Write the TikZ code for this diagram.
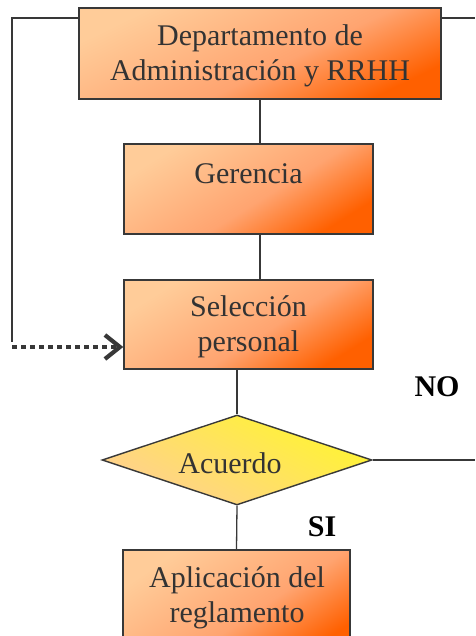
\documentclass[tikz,border=0pt]{standalone}
\usepackage{fontspec}
\setmainfont{Liberation Serif}
\usetikzlibrary{arrows.meta,shapes.geometric}
\definecolor{txt}{HTML}{333333}
\definecolor{ln}{HTML}{383838}
\definecolor{olight}{HTML}{FFCC99}
\definecolor{omid}{HTML}{FFA470}
\definecolor{odark}{HTML}{FF6000}
\definecolor{ylw}{HTML}{FFF530}
\definecolor{ylight}{HTML}{FFCF92}
\pgfdeclareverticalshading{orangesh}{100bp}{color(0bp)=(odark); color(25bp)=(odark); color(45bp)=(omid); color(75bp)=(olight); color(100bp)=(olight)}
\pgfdeclareverticalshading{yellowsh}{100bp}{color(0bp)=(ylight); color(25bp)=(ylight); color(75bp)=(ylw); color(100bp)=(ylw)}
\tikzset{
  box/.style={draw=ln, line width=1.4pt, rectangle, inner sep=0pt,
    shading=orangesh, shading angle=#1},
  box/.default=32,
  lbl/.style={text=txt, font=\fontsize{30}{35}\selectfont, align=center, inner sep=0pt},
  conn/.style={draw=ln, line width=1.3pt},
  dec/.style={draw=ln, line width=1.4pt, diamond, shape aspect=3, inner sep=0pt,
    minimum width=270pt, minimum height=90pt,
    shading=yellowsh, shading angle=-28},
  boldlbl/.style={text=black, font=\fontsize{30}{35}\selectfont\bfseries, inner sep=0pt}
}
\begin{document}
\begin{tikzpicture}[x=1pt,y=1pt]
\useasboundingbox (0,0) rectangle (475,636);
% boxes
\node[box=26, minimum width=362pt, minimum height=91pt] (dep) at (260,582.5) {};
\node[lbl] (deptxt) at (260,580) {Departamento de\\Administración y RRHH};
\node[box=32, minimum width=249pt, minimum height=90pt] (ger) at (248.5,447) {};
\node[lbl] (gertxt) at (248.5,462) {Gerencia};
\node[box=32, minimum width=249pt, minimum height=89pt] (sel) at (248.5,311.5) {};
\node[lbl] (seltxt) at (248.5,309) {Selección\\personal};
\node[dec] (dia) at (237,176) {};
\node[lbl] (diatxt) at (230,173) {Acuerdo};
\node[box=34, minimum width=227pt, minimum height=110pt] (app) at (236.5,31) {};
\node[lbl] (apptxt) at (237,38) {Aplicación del\\reglamento};
\node[boldlbl] (no) at (437,249) {NO};
\node[boldlbl] (si) at (322,109) {SI};
% coordinates
\coordinate (tr) at (475,618);
\coordinate (tl) at (12,618);
\coordinate (lb) at (12,294);
\coordinate (ls) at (12,289);
\coordinate (rr) at (475,176);
% connectors
\draw[conn] (dep.east |- tr) -- (tr);
\draw[conn] (dep.west |- tl) -- (tl) -- (lb);
\draw[conn] (dep.south) -- (dep.south |- ger.north);
\draw[conn] (ger.south -| dep.south) -- (dep.south |- sel.north);
\draw[conn] (dia.north |- sel.south) -- (dia.north);
\draw[conn] (dia.south) -- (app.north);
\draw[conn] (dia.east) -- (rr);
\draw[draw=ln, line width=4pt, dash pattern=on 4.5pt off 4.5pt,
  -{Straight Barb[length=15pt,width=24pt,line width=4.2pt]}]
  (ls) -- (sel.west |- ls);
\end{tikzpicture}
\end{document}
